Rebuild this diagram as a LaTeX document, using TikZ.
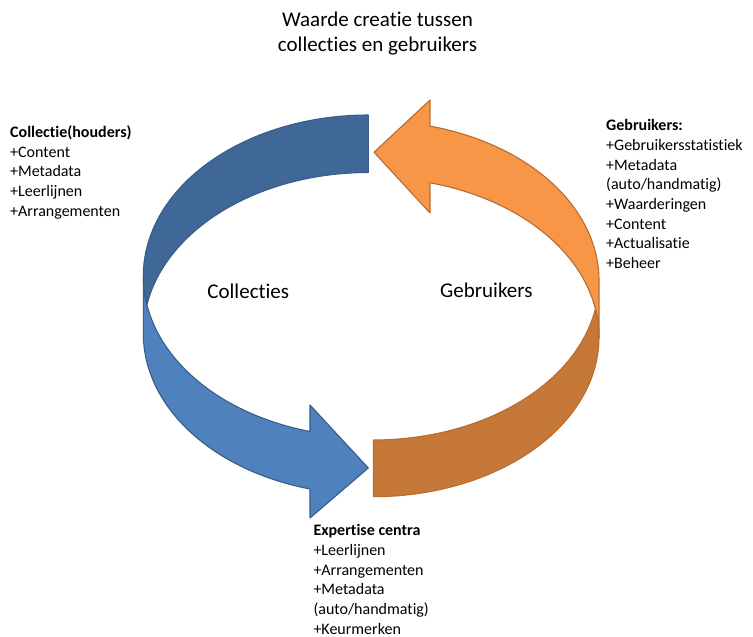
\documentclass[tikz,border=0pt]{standalone}
\usepackage{fontspec}
\setmainfont{Carlito}[Ligatures={NoCommon,NoRare,NoContextual}]
\definecolor{bluefront}{HTML}{4F81BD}
\definecolor{blueback}{HTML}{3F6797}
\definecolor{blueline}{HTML}{385D8A}
\definecolor{orangefront}{HTML}{F79646}
\definecolor{orangeback}{HTML}{C67838}
\definecolor{orangeline}{HTML}{B66D31}
\begin{document}
\begin{tikzpicture}[x=1pt,y=-1pt,line join=round,
  bluepart/.style={draw=blueline,line width=1.1pt},
  orangepart/.style={draw=orangeline,line width=1.1pt},
  bigtext/.style={font=\fontsize{21}{25.7}\selectfont,inner sep=0pt},
  smalltext/.style={font=\fontsize{16}{19.7}\selectfont,inner sep=0pt,anchor=base west}]
\useasboundingbox (0,0) rectangle (753,637);
% blue curved arrow
\def\bcx{368.3}\def\brx{225}\def\bry{161}\def\bcya{276}\def\bcyb{333.5}
\path[bluepart,fill=bluefront]
  plot[domain=180:105.02,samples=60] ({\bcx+\brx*cos(\x)},{\bcya+\bry*sin(\x)})
  -- (310,405) -- (368.3,468) -- (310,518)
  -- plot[domain=105.02:180,samples=60] ({\bcx+\brx*cos(\x)},{\bcyb+\bry*sin(\x)})
  -- cycle;
\path[bluepart,fill=blueback]
  plot[domain=180:270,samples=60] ({\bcx+\brx*cos(\x)},{\bcya+\bry*sin(\x)})
  -- plot[domain=270:190.29,samples=60] ({\bcx+\brx*cos(\x)},{\bcyb+\bry*sin(\x)})
  -- plot[domain=169.71:180,samples=10] ({\bcx+\brx*cos(\x)},{\bcya+\bry*sin(\x)})
  -- cycle;
% orange curved arrow
\def\ocx{373.5}\def\orx{225.5}\def\ory{159.5}\def\ocya{337.2}\def\ocyb{280.5}
\path[orangepart,fill=orangefront]
  plot[domain=0:-75.49,samples=60] ({\ocx+\orx*cos(\x)},{\ocya+\ory*sin(\x)})
  -- (430,213) -- (374,152.3) -- (430,100)
  -- plot[domain=-75.49:0,samples=60] ({\ocx+\orx*cos(\x)},{\ocyb+\ory*sin(\x)})
  -- cycle;
\path[orangepart,fill=orangeback]
  plot[domain=0:90,samples=60] ({\ocx+\orx*cos(\x)},{\ocya+\ory*sin(\x)})
  -- plot[domain=90:10.24,samples=60] ({\ocx+\orx*cos(\x)},{\ocyb+\ory*sin(\x)})
  -- plot[domain=-10.24:0,samples=10] ({\ocx+\orx*cos(\x)},{\ocya+\ory*sin(\x)})
  -- cycle;
% texts
\node[bigtext,anchor=base] (title) at (377.5,26)
  {\begin{tabular}[t]{@{}c@{}}Waarde creatie tussen\\collecties en gebruikers\end{tabular}};
\node[bigtext,anchor=base] (collecties) at (248.3,298) {Collecties};
\node[bigtext,anchor=base] (gebruikers) at (486.3,297) {Gebruikers};
\node[smalltext] (collectie) at (10,137.3)
  {\begin{tabular}[t]{@{}l@{}}\textbf{Collectie(houders)}\\+Content\\+Metadata\\+Leerlijnen\\+Arrangementen\end{tabular}};
\node[smalltext] (gebr) at (606,130.7)
  {\begin{tabular}[t]{@{}l@{}}\textbf{Gebruikers:}\\+Gebruikersstatistiek\\+Metadata\\(auto/handmatig)\\+Waarderingen\\+Content\\+Actualisatie\\+Beheer\end{tabular}};
\node[smalltext] (expertise) at (313.3,535.7)
  {\begin{tabular}[t]{@{}l@{}}\textbf{Expertise centra}\\+Leerlijnen\\+Arrangementen\\+Metadata\\(auto/handmatig)\\+Keurmerken\end{tabular}};
\end{tikzpicture}
\end{document}
